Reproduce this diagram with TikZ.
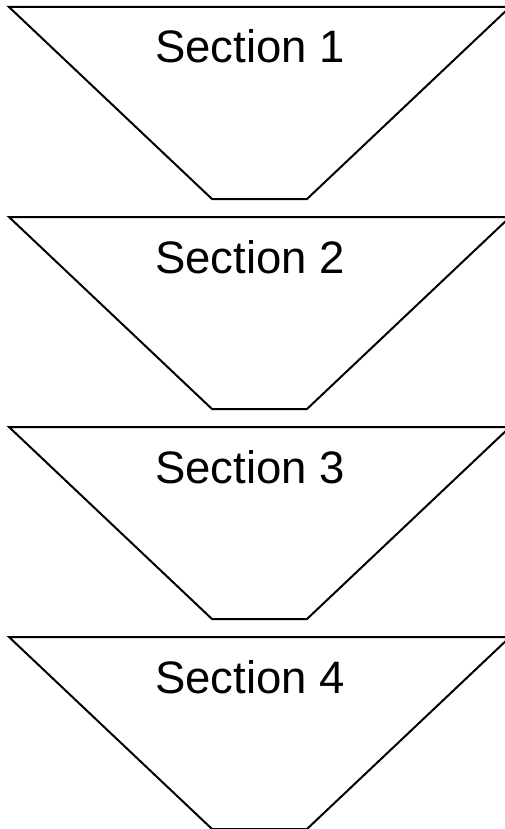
\documentclass[tikz,border=0pt]{standalone}
\usepackage{fontspec}
\setmainfont{Liberation Sans}
\begin{document}
\begin{tikzpicture}[x=1pt,y=-1pt,
  funnel/.style={draw=black,line width=2pt,line join=miter,fill=white},
  label/.style={font=\fontsize{45.5}{50}\selectfont,anchor=base,inner sep=0pt}]
\useasboundingbox (0,0) rectangle (505,829);
\foreach \i/\t in {0/7,1/217,2/427,3/637}{
  \draw[funnel] (9,\t) -- (510,\t) -- (307,\t+192) -- (212,\t+192) -- cycle;
  \pgfmathtruncatemacro{\n}{\i+1}
  \node[label] (s\n) at (250,\t+56) {Section \n};
}
\end{tikzpicture}
\end{document}
